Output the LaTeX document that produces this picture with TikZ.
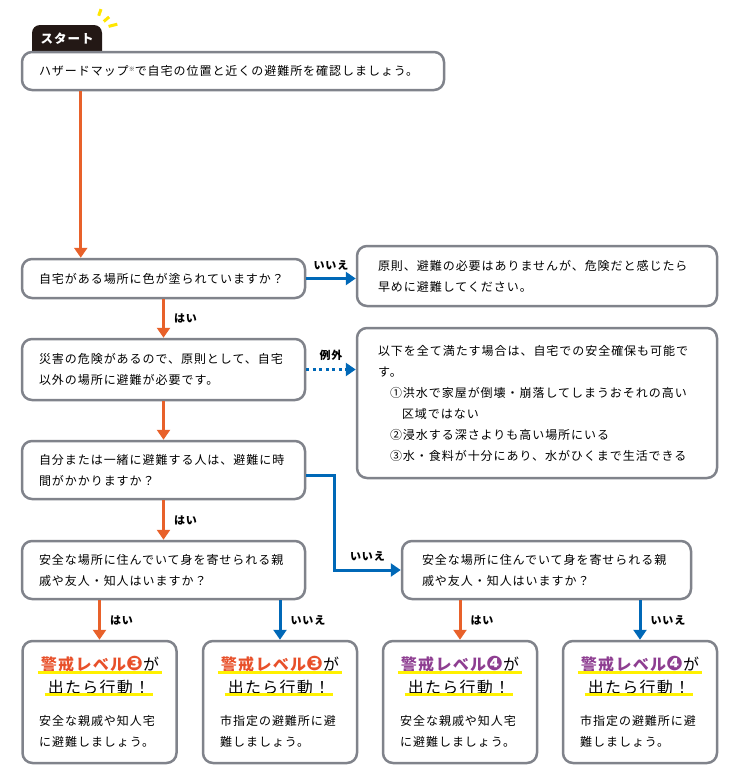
\documentclass[tikz,border=0pt]{standalone}
\usepackage{fontspec}
\setmainfont{Noto Sans CJK JP}[LetterSpace=8]
\newfontfamily\dingfont{DejaVu Sans}
\usetikzlibrary{arrows.meta}

\definecolor{yesorange}{RGB}{232,97,42}
\definecolor{noblue}{RGB}{0,104,183}
\definecolor{boxgray}{RGB}{128,131,139}
\definecolor{tabbrown}{RGB}{35,24,21}
\definecolor{lvred}{RGB}{232,80,42}
\definecolor{lvpurple}{RGB}{142,62,145}
\definecolor{sparkyellow}{RGB}{255,230,0}
\definecolor{hiyellow}{RGB}{255,241,0}

\tikzset{
  qbox/.style={draw=boxgray, line width=2.5pt, rounded corners=10pt, fill=white,
    align=left, inner xsep=17pt, inner ysep=0pt, font={\fontsize{12}{21}\selectfont}},
  endbox/.style={draw=boxgray, line width=2.5pt, rounded corners=10pt, fill=white,
    minimum width=154pt, minimum height=122pt, inner sep=0pt},
  lvtitle/.style={inner xsep=3pt, inner ysep=0pt, font={\fontsize{16}{18}\selectfont}},
  acttext/.style={inner xsep=3pt, inner ysep=0pt, font={\fontsize{16}{18}\selectfont}},
  endtext/.style={align=left, inner sep=0pt, anchor=west, font={\fontsize{12}{21}\selectfont}},
  hiline/.style={draw=hiyellow, line width=3pt},
  yesarrow/.style={draw=yesorange, line width=3pt, -{Triangle[width=13pt,length=10pt]}},
  noarrow/.style={draw=noblue, line width=3pt, -{Triangle[width=13pt,length=10pt]}},
  exarrow/.style={draw=noblue, line width=3pt, dash pattern=on 3pt off 3.5pt,
    -{Triangle[width=13pt,length=10pt]}},
  lbl/.style={inner sep=1pt, font={\bfseries\fontsize{11}{13}\selectfont}},
  spark/.style={draw=sparkyellow, line width=3pt},
  tabtext/.style={text=white, inner sep=0pt, font={\bfseries\fontsize{12.5}{14}\selectfont}}
}
\newcommand{\lvnum}[1]{{\dingfont\fontsize{20}{20}\selectfont #1}}

\begin{document}
\begin{tikzpicture}[x=1pt,y=-1pt]
\useasboundingbox (0,0) rectangle (731,774);

% start tab
\fill[tabbrown, rounded corners=8pt] (32,62) -- (32,25) -- (102,25) -- (102,62) -- cycle;
\node[tabtext] (start) at (67,39) {スタート};
\draw[spark] (98.7,15.8) -- (101,9.1);
\draw[spark] (103.8,21.5) -- (109.1,16.9);
\draw[spark] (108.6,26.4) -- (117.3,24.2);

% question boxes
\node[qbox, text width=388pt, minimum height=38pt] (hazard) at (233,71)
  {ハザードマップ\raisebox{4pt}{\fontsize{6}{6}\selectfont ※}で自宅の位置と近くの避難所を確認しましょう。};
\node[qbox, text width=249pt, minimum height=39pt] (colored) at (163.5,278.5)
  {自宅がある場所に色が塗られていますか？};
\node[qbox, inner xsep=21pt, text width=318pt, minimum height=60pt] (noneed) at (537,276)
  {原則、避難の必要はありませんが、危険だと感じたら\\早めに避難してください。};
\node[qbox, text width=249pt, minimum height=61pt] (danger) at (163.5,369.5)
  {災害の危険があるので、原則として、自宅\\以外の場所に避難が必要です。};
\node[qbox, inner xsep=21pt, text width=318pt, minimum height=150pt] (except) at (537,403)
  {以下を全て満たす場合は、自宅での安全確保も可能で\\す。\\
   \hspace*{1em}①洪水で家屋が倒壊・崩落してしまうおそれの高い\\
   \hspace*{2em}区域ではない\\
   \hspace*{1em}②浸水する深さよりも高い場所にいる\\
   \hspace*{1em}③水・食料が十分にあり、水がひくまで生活できる};
\node[qbox, text width=249pt, minimum height=58pt] (time) at (163.5,470)
  {自分または一緒に避難する人は、避難に時\\間がかかりますか？};
\node[qbox, text width=249pt, minimum height=58pt] (rel1) at (163.5,570)
  {安全な場所に住んでいて身を寄せられる親\\戚や友人・知人はいますか？};
\node[qbox, inner xsep=20pt, text width=249pt, minimum height=58pt] (rel2) at (546.5,570)
  {安全な場所に住んでいて身を寄せられる親\\戚や友人・知人はいますか？};

% end boxes
\node[endbox] (bot1) at (99.5,702) {};
\node[endbox] (bot2) at (280,702) {};
\node[endbox] (bot3) at (460,702) {};
\node[endbox] (bot4) at (640,702) {};

\node[lvtitle] (lv1) at (100,664) {{\bfseries\color{lvred}警戒レベル\lvnum{❸}}が};
\node[acttext] (act1) at (99,687) {出たら行動！};
\draw[hiline] (lv1.south west) -- (lv1.south east);
\draw[hiline] (act1.south west) -- (act1.south east);
\node[endtext] (body1) at (39,731) {安全な親戚や知人宅\\に避難しましょう。};

\node[lvtitle] (lv2) at (280,664) {{\bfseries\color{lvred}警戒レベル\lvnum{❸}}が};
\node[acttext] (act2) at (279,687) {出たら行動！};
\draw[hiline] (lv2.south west) -- (lv2.south east);
\draw[hiline] (act2.south west) -- (act2.south east);
\node[endtext] (body2) at (220,731) {市指定の避難所に避\\難しましょう。};

\node[lvtitle] (lv3) at (460,664) {{\bfseries\color{lvpurple}警戒レベル\lvnum{❹}}が};
\node[acttext] (act3) at (459,687) {出たら行動！};
\draw[hiline] (lv3.south west) -- (lv3.south east);
\draw[hiline] (act3.south west) -- (act3.south east);
\node[endtext] (body3) at (400,731) {安全な親戚や知人宅\\に避難しましょう。};

\node[lvtitle] (lv4) at (640,664) {{\bfseries\color{lvpurple}警戒レベル\lvnum{❹}}が};
\node[acttext] (act4) at (639,687) {出たら行動！};
\draw[hiline] (lv4.south west) -- (lv4.south east);
\draw[hiline] (act4.south west) -- (act4.south east);
\node[endtext] (body4) at (580,731) {市指定の避難所に避\\難しましょう。};

% connectors
\coordinate (hazout) at ([xshift=60pt]hazard.south west);
\draw[yesarrow] (hazout) -- (hazout |- colored.north);
\draw[noarrow] (colored.east) -- node[lbl, above=6pt] {いいえ} (colored.east -| noneed.west);
\draw[yesarrow] (colored.south) -- node[lbl, right=8pt] {はい} (danger.north);
\draw[exarrow] (danger.east) -- node[lbl, above=6pt] {例外} (danger.east -| except.west);
\draw[yesarrow] (danger.south) -- (time.north);
\draw[yesarrow] (time.south) -- node[lbl, right=8pt] {はい} (rel1.north);
\coordinate (timeout) at ([yshift=-5pt]time.east);
\draw[noarrow] (timeout) -- ++(28,0) |- node[lbl, pos=0.75, above=6pt] {いいえ} (rel2.west);
\draw[yesarrow] (rel1.south -| bot1.north) -- node[lbl, right=8pt] {はい} (bot1.north);
\draw[noarrow] (rel1.south -| bot2.north) -- node[lbl, right=8pt] {いいえ} (bot2.north);
\draw[yesarrow] (rel2.south -| bot3.north) -- node[lbl, right=8pt] {はい} (bot3.north);
\draw[noarrow] (rel2.south -| bot4.north) -- node[lbl, right=8pt] {いいえ} (bot4.north);
\end{tikzpicture}
\end{document}
